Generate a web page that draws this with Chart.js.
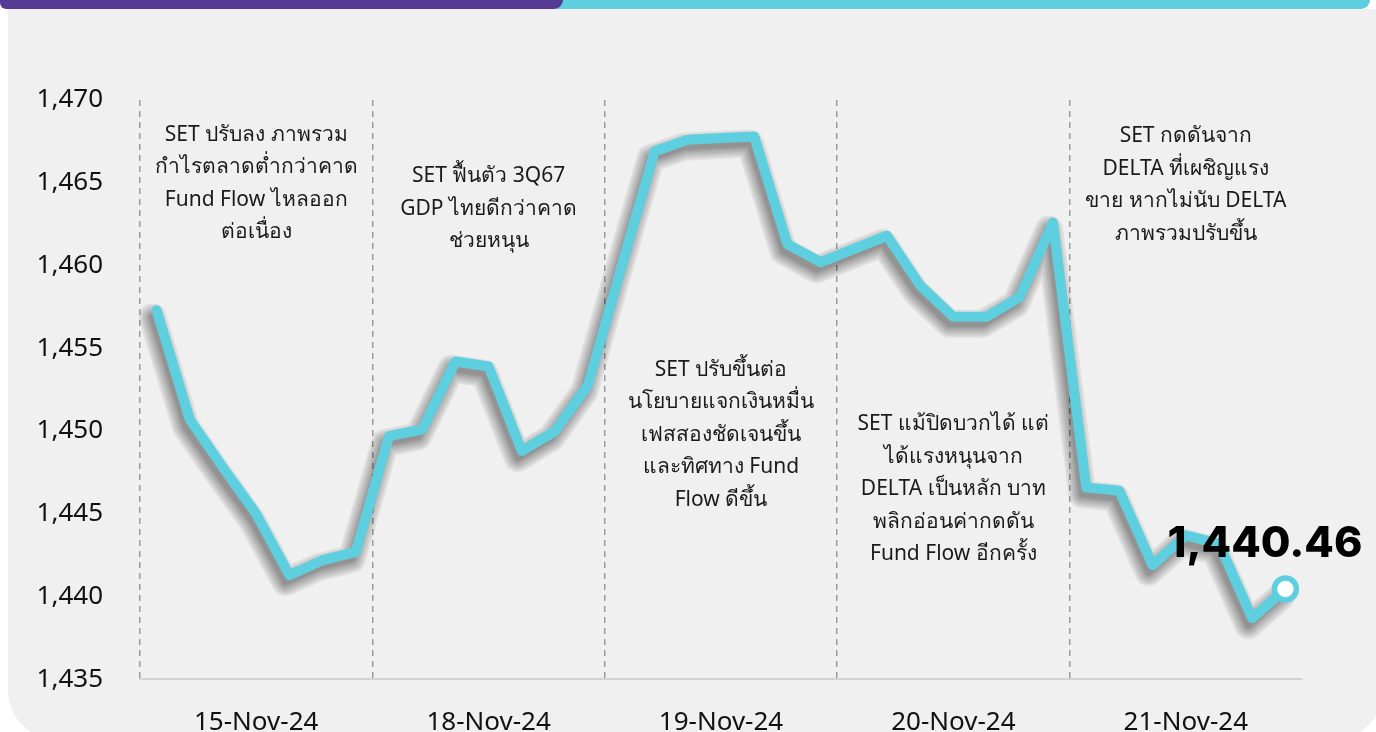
<!DOCTYPE html>
<html>
<head>
<meta charset="utf-8">
<script src="https://cdn.jsdelivr.net/npm/chart.js@4"></script>
<style>
  html, body { margin: 0; padding: 0; background: #fff; overflow: hidden; }
  body { width: 1376px; height: 732px; position: relative; font-family: "Noto Sans", sans-serif; }
  .panel { position: absolute; left: 8px; top: 9px; width: 1375px; height: 731px; background: #f0f0f0; border-radius: 0 0 50px 50px; }
  .barCyan { position: absolute; left: 520px; top: 0; width: 850px; height: 9px; background: #5ecfdf; border-radius: 0 0 10px 0; }
  .barPurple { position: absolute; left: 0; top: 0; width: 563px; height: 9px; background: #573a96; border-radius: 0 0 26px 18px; }
  canvas { position: absolute; left: 0; top: 0; }
</style>
</head>
<body>
<div class="panel"></div>
<div class="barCyan"></div>
<div class="barPurple"></div>
<canvas id="setChart" width="1376" height="732"></canvas>
<script>
// วันทำการ 5 วัน แต่ละวันมี 7 จุด
const days = ['15-Nov-24', '18-Nov-24', '19-Nov-24', '20-Nov-24', '21-Nov-24'];
const slotsPerDay = 7;

// ดัชนี SET ระหว่างวัน
const setIndex = [
  1457.3, 1450.7, 1447.8, 1445.0, 1441.3, 1442.2, 1442.7,
  1449.7, 1450.1, 1454.2, 1453.9, 1448.8, 1450.0, 1452.8,
  1459.9, 1466.9, 1467.6, 1467.7, 1467.8, 1461.3, 1460.2,
  1461.0, 1461.8, 1458.8, 1456.9, 1456.9, 1458.1, 1462.6,
  1446.6, 1446.4, 1441.9, 1443.7, 1443.2, 1438.7, 1440.46
];

const yTicks = { min: 1435, max: 1470, step: 5 };

// ข้อความอธิบายแต่ละวัน
const notes = [
  ['SET ปรับลง ภาพรวม', 'กำไรตลาดต่ำกว่าคาด', 'Fund Flow ไหลออก', 'ต่อเนื่อง'],
  ['SET ฟื้นตัว 3Q67', 'GDP ไทยดีกว่าคาด', 'ช่วยหนุน'],
  ['SET ปรับขึ้นต่อ', 'นโยบายแจกเงินหมื่น', 'เฟสสองชัดเจนขึ้น', 'และทิศทาง Fund', 'Flow ดีขึ้น'],
  ['SET แม้ปิดบวกได้ แต่', 'ได้แรงหนุนจาก', 'DELTA เป็นหลัก บาท', 'พลิกอ่อนค่ากดดัน', 'Fund Flow อีกครั้ง'],
  ['SET กดดันจาก', 'DELTA ที่เผชิญแรง', 'ขาย หากไม่นับ DELTA', 'ภาพรวมปรับขึ้น']
];

const labels = [];
days.forEach(d => { for (let k = 0; k < slotsPerDay; k++) labels.push(d + ' #' + (k + 1)); });
const lastIdx = setIndex.length - 1;
const cyan = '#5ecfdf';

// เงาใต้เส้น: shadowBlur ใช้ไม่ได้ เลยซ้อนเส้นเทาโปร่งหลายชั้นให้ขอบนุ่ม
const lineShadow = {
  id: 'lineShadow',
  beforeDatasetsDraw(chart) {
    const ctx = chart.ctx;
    const pts = chart.getDatasetMeta(0).data;
    ctx.save();
    ctx.lineJoin = 'round';
    ctx.lineCap = 'round';
    ctx.strokeStyle = 'rgba(0,0,0,0.07)';
    [28, 24, 20, 16, 12, 9, 6].forEach(w => {
      ctx.lineWidth = w;
      ctx.beginPath();
      pts.forEach((p, i) => i ? ctx.lineTo(p.x - 4, p.y + 7) : ctx.moveTo(p.x - 4, p.y + 7));
      ctx.stroke();
    });
    ctx.restore();
  }
};

const dayNotes = {
  id: 'dayNotes',
  afterDraw(chart, args, opts) {
    const { ctx, scales: { x, y } } = chart;
    ctx.save();
    ctx.fillStyle = '#1a1a1a';
    ctx.font = '21px "Noto Sans", sans-serif';
    ctx.textAlign = 'center';
    ctx.textBaseline = 'middle';
    notes.forEach((lines, i) => {
      const cx = x.getPixelForValue(i * slotsPerDay + 3);
      const top = y.getPixelForValue(opts.firstLine[i]);
      lines.forEach((t, j) => ctx.fillText(t, cx, top + j * opts.lineGap));
    });
    // ค่าปิดล่าสุด
    const pt = chart.getDatasetMeta(0).data[lastIdx];
    ctx.fillStyle = '#000';
    ctx.font = '800 43px Inter, "Noto Sans", sans-serif';
    ctx.textAlign = 'right';
    ctx.fillText(setIndex[lastIdx].toLocaleString('en-US', { minimumFractionDigits: 2 }), pt.x + 77, pt.y - 45);
    ctx.restore();
  }
};

new Chart(document.getElementById('setChart'), {
  type: 'line',
  data: {
    labels,
    datasets: [{
      data: setIndex,
      borderColor: cyan,
      borderWidth: 10,
      borderJoinStyle: 'round',
      borderCapStyle: 'round',
      tension: 0,
      fill: false,
      pointRadius: c => c.dataIndex === lastIdx ? 11 : 0,
      pointBackgroundColor: '#fff',
      pointBorderColor: cyan,
      pointBorderWidth: 5.5
    }]
  },
  options: {
    responsive: false,
    devicePixelRatio: 1,
    animation: false,
    layout: { padding: { top: 100, right: 74, bottom: 0, left: 0 } },
    plugins: {
      legend: { display: false },
      tooltip: { enabled: false },
      dayNotes: { firstLine: [1467.9, 1465.4, 1453.7, 1450.4, 1467.8], lineGap: 32.5 }
    },
    scales: {
      x: {
        offset: true,
        afterFit: s => { s.height = 51; },
        grid: {
          offset: true,
          drawTicks: false,
          lineWidth: 1.5,
          color: c => c.index % slotsPerDay === 0 ? '#9b9b9b' : 'rgba(0,0,0,0)'
        },
        border: { display: true, color: '#d2d2d2', width: 2, dash: [6, 5] },
        ticks: {
          autoSkip: false,
          maxRotation: 0,
          padding: 28,
          color: '#111',
          font: { family: 'Noto Sans', size: 26 },
          callback: (v, i) => i % slotsPerDay === 3 ? days[Math.floor(i / slotsPerDay)] : ''
        }
      },
      y: {
        min: yTicks.min,
        max: yTicks.max,
        afterFit: s => { s.width = 140; },
        grid: { display: false, drawTicks: false },
        border: { display: false },
        ticks: {
          stepSize: yTicks.step,
          padding: 37,
          color: '#111',
          font: { family: 'Noto Sans', size: 26 }
        }
      }
    }
  },
  plugins: [lineShadow, dayNotes]
});
</script>
</body>
</html>
